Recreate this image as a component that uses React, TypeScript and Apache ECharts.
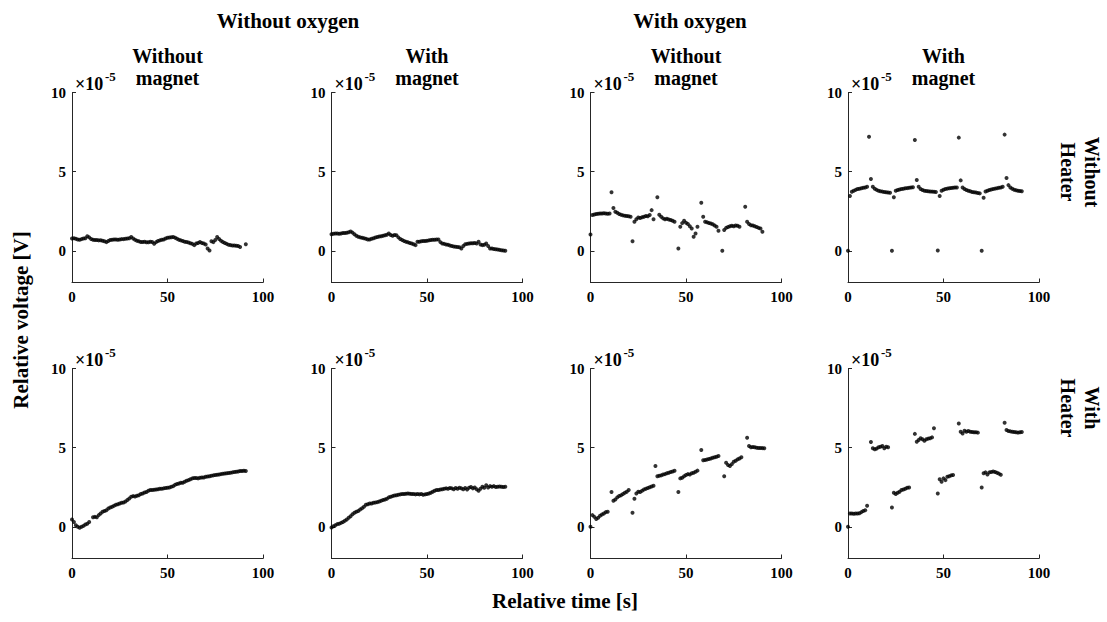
import React, { useEffect, useRef } from "react";
import * as echarts from "echarts";

// ---- data (relative voltage, units of 1e-5 V) ----
const TIME = [
  0, 1, 2, 3, 4, 5, 6, 7, 8, 9, 10, 11, 12, 13, 14, 15, 16, 17, 18, 19,
  20, 21, 22, 23, 24, 25, 26, 27, 28, 29, 30, 31, 32, 33, 34, 35, 36, 37, 38, 39,
  40, 41, 42, 43, 44, 45, 46, 47, 48, 49, 50, 51, 52, 53, 54, 55, 56, 57, 58, 59,
  60, 61, 62, 63, 64, 65, 66, 67, 68, 69, 70, 71, 72, 73, 74, 75, 76, 77, 78, 79,
  80, 81, 82, 83, 84, 85, 86, 87, 88, 89, 90, 91,
];

const COLUMN_TITLES = ["Without\nmagnet", "With\nmagnet", "Without\nmagnet", "With\nmagnet"];
const GROUP_TITLES = ["Without oxygen", "With oxygen"];
const ROW_TITLES = ["Without\nHeater", "With\nHeater"];
const X_TICKS = [0, 50, 100];
const Y_TICKS = [0, 5, 10];

// Row 1: without heater
const noO2NoMagNoHeat = [
  0.78, 0.80, 0.76, 0.72, 0.70, 0.74, 0.78, 0.80, 0.92, 0.85,
  0.75, 0.70, 0.68, 0.68, 0.66, 0.67, 0.64, 0.60, 0.55, 0.62,
  0.68, 0.70, 0.72, 0.72, 0.70, 0.72, 0.74, 0.74, 0.76, 0.78,
  0.80, 0.88, 0.78, 0.70, 0.64, 0.60, 0.56, 0.56, 0.58, 0.54,
  0.54, 0.58, 0.56, 0.45, 0.55, 0.62, 0.66, 0.70, 0.72, 0.78,
  0.82, 0.84, 0.86, 0.88, 0.82, 0.76, 0.70, 0.66, 0.62, 0.58,
  0.56, 0.52, 0.48, 0.44, 0.36, 0.46, 0.50, 0.56, 0.50, 0.46,
  0.40, 0.15, 0.02, 0.60, 0.55, 0.68, 0.88, 0.75, 0.64, 0.56,
  0.50, 0.44, 0.38, 0.36, 0.34, 0.34, 0.32, 0.30, 0.24, null,
  null, 0.42,
];
const noO2MagNoHeat = [
  1.05, 1.08, 1.10, 1.10, 1.08, 1.10, 1.12, 1.12, 1.14, 1.18,
  1.22, 1.15, 1.05, 0.95, 0.89, 0.85, 0.82, 0.80, 0.76, 0.72,
  0.72, 0.76, 0.80, 0.84, 0.88, 0.90, 0.92, 0.95, 0.98, 1.02,
  1.10, 1.00, 0.95, 1.00, 0.98, 0.85, 0.75, 0.68, 0.62, 0.58,
  0.54, 0.50, 0.46, 0.42, 0.36, 0.57, 0.58, 0.60, 0.62, 0.62,
  0.64, 0.66, 0.68, 0.70, 0.70, 0.72, 0.72, 0.55, 0.46, 0.44,
  0.40, 0.38, 0.34, 0.30, 0.28, 0.26, 0.24, 0.22, 0.15, 0.30,
  0.42, 0.44, 0.46, 0.48, 0.48, 0.50, 0.46, 0.57, 0.40, 0.36,
  0.38, 0.46, 0.30, 0.15, 0.15, 0.12, 0.10, 0.08, 0.06, 0.04,
  0.02, 0.00,
];
const o2NoMagNoHeat = [
  1.03, 2.26, 2.30, 2.32, 2.34, 2.36, 2.36, 2.38, 2.36, 2.34,
  2.36, 3.70, 2.70, 2.47, 2.40, 2.32, 2.28, 2.24, 2.22, 2.20,
  2.18, 2.15, 0.60, 1.84, 2.00, 2.10, 2.08, 2.12, 2.15, 2.20,
  2.18, 2.26, 2.57, 2.00, null, 3.38, 2.28, 2.15, 2.05, 2.00,
  2.02, 1.98, 1.95, 1.90, 1.84, null, 0.15, 1.52, 1.75, 1.90,
  1.78, 1.70, 1.55, 1.41, 0.89, 1.10, 1.52, null, 3.04, 2.15,
  1.84, 1.80, 1.76, 1.72, 1.68, 1.60, 1.52, 1.27, null, 0.00,
  1.31, 1.45, 1.50, 1.55, 1.58, 1.55, 1.60, 1.58, 1.52, null,
  null, 2.78, 1.84, 1.70, 1.62, 1.60, 1.55, 1.50, 1.45, 1.41,
  1.20, null,
];
const o2MagNoHeat = [
  0.00, 3.46, 3.73, 3.80, 3.85, 3.90, 3.92, 3.95, 3.98, 4.00,
  4.05, 7.20, 4.54, 4.05, 3.92, 3.85, 3.80, 3.76, 3.74, 3.72,
  3.70, 3.68, 3.67, 0.00, 3.38, 3.80, 3.84, 3.88, 3.90, 3.92,
  3.95, 3.96, 3.98, 4.00, 4.02, 7.00, 4.48, 4.05, 3.90, 3.84,
  3.80, 3.78, 3.76, 3.75, 3.74, 3.73, 3.72, 0.02, 3.46, 3.80,
  3.86, 3.90, 3.93, 3.95, 3.97, 3.98, 4.00, 4.00, 7.15, 4.45,
  4.00, 3.90, 3.84, 3.80, 3.76, 3.72, 3.70, 3.68, 3.65, 3.63,
  0.00, 3.35, 3.75, 3.80, 3.84, 3.88, 3.90, 3.93, 3.95, 3.98,
  4.00, 4.05, 7.34, 4.60, 4.15, 4.00, 3.92, 3.86, 3.82, 3.80,
  3.78, 3.76,
];

// Row 2: with heater
const noO2NoMagHeat = [
  0.46, 0.30, 0.10, 0.00, -0.06, 0.00, 0.06, 0.15, 0.20, 0.30,
  null, 0.60, 0.63, 0.60, 0.74, 0.84, 0.95, 1.00, 1.05, 1.16,
  1.22, 1.27, 1.33, 1.40, 1.43, 1.48, 1.52, 1.54, 1.60, 1.69,
  1.79, 1.90, 1.94, 1.92, 1.96, 2.00, 2.07, 2.11, 2.17, 2.20,
  2.28, 2.32, 2.32, 2.34, 2.36, 2.38, 2.40, 2.40, 2.43, 2.45,
  2.47, 2.49, 2.53, 2.57, 2.66, 2.70, 2.74, 2.78, 2.78, 2.85,
  2.91, 2.95, 3.00, 3.06, 3.08, 3.08, 3.06, 3.10, 3.12, 3.12,
  3.16, 3.18, 3.20, 3.22, 3.25, 3.27, 3.29, 3.31, 3.33, 3.35,
  3.37, 3.38, 3.40, 3.42, 3.44, 3.46, 3.48, 3.50, 3.52, 3.52,
  3.54, 3.52,
];
const noO2MagHeat = [
  -0.04, 0.04, 0.10, 0.17, 0.20, 0.25, 0.30, 0.38, 0.46, 0.57,
  0.67, 0.80, 0.89, 0.95, 1.00, 1.10, 1.18, 1.27, 1.40, 1.43,
  1.48, 1.48, 1.52, 1.54, 1.56, 1.60, 1.65, 1.69, 1.73, 1.77,
  1.86, 1.90, 1.94, 1.98, 2.00, 2.03, 2.05, 2.07, 2.07, 2.09,
  2.11, 2.09, 2.07, 2.07, 2.05, 2.07, 2.05, 2.07, 2.03, 2.05,
  2.07, 2.11, 2.15, 2.22, 2.28, 2.32, 2.32, 2.36, 2.38, 2.40,
  2.43, 2.40, 2.45, 2.43, 2.38, 2.45, 2.40, 2.47, 2.43, 2.38,
  2.45, 2.36, 2.47, 2.51, 2.43, 2.49, 2.38, 2.28, 2.40, 2.53,
  2.47, 2.62, 2.49, 2.57, 2.53, 2.57, 2.51, 2.53, 2.55, 2.53,
  2.51, 2.53,
];
const o2NoMagHeat = [
  0.00, 0.74, 0.63, 0.49, 0.57, 0.70, 0.78, 0.84, 0.93, 0.95,
  null, 2.20, 1.65, 1.73, 1.86, 1.95, 2.00, 2.07, 2.15, 2.22,
  2.32, null, 0.89, 1.77, 2.11, 2.22, 2.20, 2.28, 2.36, 2.40,
  2.45, 2.50, 2.55, 2.60, 3.84, 3.20, 3.22, 3.25, 3.30, 3.33,
  3.38, 3.42, 3.46, 3.50, 3.54, null, 2.20, 3.06, 3.10, 3.20,
  3.27, 3.33, 3.30, 3.38, 3.42, 3.48, 3.55, null, 4.85, 4.20,
  4.22, 4.25, 4.28, 4.32, 4.36, 4.40, 4.43, 4.47, null, null,
  3.20, 4.05, 3.90, 3.84, 3.96, 4.11, 4.18, 4.26, 4.32, 4.39,
  null, null, 5.63, 5.10, 5.02, 5.04, 5.02, 5.00, 4.98, 4.98,
  4.97, 4.96,
];
const o2MagHeat = [
  0.00, 0.84, 0.84, 0.82, 0.84, 0.84, 0.86, 0.93, 1.00, 1.05,
  1.33, null, 5.36, 4.96, 4.90, 4.94, 5.02, 5.06, 5.10, 4.96,
  5.06, 5.02, null, 1.22, 2.15, 2.07, 2.15, 2.22, 2.32, 2.36,
  2.40, 2.47, 2.49, null, null, 5.87, 5.38, 5.48, 5.59, 5.53,
  5.44, 5.53, 5.57, 5.59, 5.65, 6.22, null, 2.11, 3.00, 2.85,
  3.06, 2.95, 3.16, 3.20, 3.25, 3.27, null, null, 6.52, 6.01,
  5.90, 6.07, 6.01, 6.05, 6.01, 5.99, 5.97, 5.97, 5.95, null,
  2.49, 3.38, 3.44, 3.31, 3.44, 3.46, 3.50, 3.46, 3.42, 3.36,
  3.29, null, 6.58, 6.12, 6.05, 6.03, 6.01, 5.99, 5.97, 5.95,
  5.97, 5.99,
];

const PANELS = [
  noO2NoMagNoHeat, noO2MagNoHeat, o2NoMagNoHeat, o2MagNoHeat,
  noO2NoMagHeat, noO2MagHeat, o2NoMagHeat, o2MagHeat,
];

// ---- layout ----
const W = 1107;
const H = 622;
const LEFTS = [72, 331.5, 590.5, 848];
const TOPS = [92.5, 368.5];
const GW = 191;
const GH = 190;
const FONT = "Liberation Serif";
const AXIS_COLOR = "#262626";

function pairs(vals: (number | null)[]) {
  const out: number[][] = [];
  TIME.forEach((t, i) => {
    const v = vals[i];
    if (v !== null && v !== undefined) out.push([t, v]);
  });
  return out;
}

function txt(
  text: string,
  x: number,
  y: number,
  size: number,
  opts: { rotation?: number; align?: string; vAlign?: string; lineHeight?: number } = {}
) {
  const style: any = {
    text,
    fill: "#000",
    fontFamily: FONT,
    fontWeight: "bold",
    fontSize: size,
    textAlign: opts.align || "center",
    textVerticalAlign: opts.vAlign || "middle",
  };
  if (opts.lineHeight) style.lineHeight = opts.lineHeight;
  return {
    type: "text",
    x,
    y,
    rotation: opts.rotation || 0,
    silent: true,
    style,
  };
}

export default function App() {
  const ref = useRef<HTMLDivElement>(null);

  useEffect(() => {
    document.body.style.margin = "0";
    if (!ref.current) return;
    const chart = echarts.init(ref.current, undefined, { renderer: "svg" });

    const grids: any[] = [];
    const xAxes: any[] = [];
    const yAxes: any[] = [];
    const series: any[] = [];
    const graphics: any[] = [];

    const labelStyle = {
      color: "#000",
      fontFamily: FONT,
      fontWeight: "bold",
      fontSize: 15,
    };

    for (let r = 0; r < 2; r++) {
      for (let c = 0; c < 4; c++) {
        const i = r * 4 + c;
        const left = LEFTS[c];
        const top = TOPS[r];
        grids.push({ left, top, width: GW, height: GH, containLabel: false });
        xAxes.push({
          gridIndex: i,
          type: "value",
          min: 0,
          max: 100,
          interval: 50,
          axisLine: { show: true, onZero: false, lineStyle: { color: AXIS_COLOR, width: 1 } },
          axisTick: { show: true, inside: true, length: 4, lineStyle: { color: AXIS_COLOR } },
          axisLabel: { ...labelStyle, margin: 7, customValues: X_TICKS },
          splitLine: { show: false },
        });
        yAxes.push({
          gridIndex: i,
          type: "value",
          min: -2,
          max: 10,
          axisLine: { show: true, onZero: false, lineStyle: { color: AXIS_COLOR, width: 1 } },
          axisTick: { show: true, inside: true, length: 4, customValues: Y_TICKS, lineStyle: { color: AXIS_COLOR } },
          axisLabel: { ...labelStyle, margin: 6, customValues: Y_TICKS },
          splitLine: { show: false },
        });
        series.push({
          type: "scatter",
          xAxisIndex: i,
          yAxisIndex: i,
          symbol: "circle",
          symbolSize: 4,
          itemStyle: { color: "#000" },
          data: pairs(PANELS[i]),
        });
        // exponent label ×10^-5
        graphics.push(txt("×10", left + 3, top - 9, 18, { align: "left" }));
        graphics.push(txt("-5", left + 33, top - 16, 13, { align: "left" }));
        if (r === 0) {
          graphics.push(txt(COLUMN_TITLES[c], left + GW / 2, 67, 20, { lineHeight: 22 }));
        }
      }
    }

    graphics.push(txt(GROUP_TITLES[0], 288, 21, 21));
    graphics.push(txt(GROUP_TITLES[1], 690, 21, 21));
    graphics.push(txt(ROW_TITLES[0], 1080, 172, 20, { rotation: -Math.PI / 2, lineHeight: 24 }));
    graphics.push(txt(ROW_TITLES[1], 1080, 408, 20, { rotation: -Math.PI / 2, lineHeight: 24 }));
    graphics.push(txt("Relative voltage [V]", 21, 320, 21, { rotation: Math.PI / 2 }));
    graphics.push(txt("Relative time [s]", 565, 601, 21));

    chart.setOption({
      animation: false,
      backgroundColor: "#fff",
      grid: grids,
      xAxis: xAxes,
      yAxis: yAxes,
      series,
      graphic: graphics,
    });

    return () => chart.dispose();
  }, []);

  return <div ref={ref} style={{ width: W, height: H, overflow: "hidden" }} />;
}
